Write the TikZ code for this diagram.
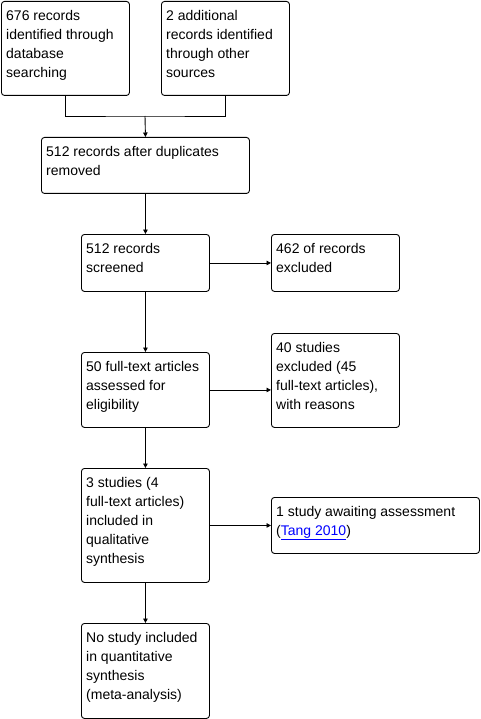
\documentclass[tikz,border=0pt]{standalone}
\usepackage{fontspec}
\setmainfont{Liberation Sans}
\usetikzlibrary{arrows.meta,calc}
\definecolor{linkblue}{HTML}{0000FF}
\tikzset{
  flowbox/.style={draw=black, line width=0.9pt, rounded corners=3pt, anchor=north west, inner sep=0pt, fill=white},
  boxtext/.style={anchor=north west, inner sep=0pt, align=left, font=\fontsize{14}{19}\selectfont},
  conn/.style={draw=black, line width=0.9pt},
  arr/.style={conn, -{Triangle[length=4.5pt,width=4.5pt]}}
}
\newcommand{\fs}{\rule{0pt}{13.3pt}}
\begin{document}
\begin{tikzpicture}[x=1pt,y=-1pt]
\useasboundingbox (0,0) rectangle (481,719);
% boxes
\node[flowbox, minimum width=128, minimum height=94] (A) at (1,1) {};
\node[flowbox, minimum width=128, minimum height=94] (B) at (161,1) {};
\node[flowbox, minimum width=208, minimum height=56] (C) at (41,137) {};
\node[flowbox, minimum width=128, minimum height=57] (D) at (81,234) {};
\node[flowbox, minimum width=128, minimum height=57] (E) at (271,234) {};
\node[flowbox, minimum width=128, minimum height=75] (F) at (81,352) {};
\node[flowbox, minimum width=128, minimum height=94] (H) at (271,333) {};
\node[flowbox, minimum width=128, minimum height=114] (G) at (81,468) {};
\node[flowbox, minimum width=208, minimum height=56] (I) at (271,497) {};
\node[flowbox, minimum width=128, minimum height=95] (J) at (81,623) {};
% texts
\node[boxtext] (tA) at ($(A.north west)+(5,5.7)$) {\fs 676 records\\identified through\\database\\searching};
\node[boxtext] (tB) at ($(B.north west)+(5,5.7)$) {\fs 2 additional\\records identified\\through other\\sources};
\node[boxtext] (tC) at ($(C.north west)+(5,5.7)$) {\fs 512 records after duplicates\\removed};
\node[boxtext] (tD) at ($(D.north west)+(5,5.7)$) {\fs 512 records\\screened};
\node[boxtext] (tE) at ($(E.north west)+(5,5.7)$) {\fs 462 of records\\excluded};
\node[boxtext] (tF) at ($(F.north west)+(5,5.7)$) {\fs 50 full-text articles\\assessed for\\eligibility};
\node[boxtext] (tH) at ($(H.north west)+(5,5.7)$) {\fs 40 studies\\excluded (45\\full-text articles),\\with reasons};
\node[boxtext] (tG) at ($(G.north west)+(5,5.7)$) {\fs 3 studies (4\\full-text articles)\\included in\\qualitative\\synthesis};
\node[boxtext] (tI) at ($(I.north west)+(5,5.7)$) {\fs 1 study awaiting assessment\\(\textcolor{linkblue}{\underline{Tang 2010}})};
\node[boxtext] (tJ) at ($(J.north west)+(5,5.7)$) {\fs No study included\\in quantitative\\synthesis\\(meta-analysis)};
% connectors
\coordinate (m) at (145,116);
\draw[conn] (A.south) |- (m) -| (B.south);
\draw[arr] (m) -- (C.north);
\draw[arr] (C.south) -- (D.north);
\draw[arr] (D.east) -- (D.east -| E.west);
\draw[arr] (D.south) -- (F.north);
\draw[arr] (F.east) -- (F.east -| H.west);
\draw[arr] (F.south) -- (G.north);
\draw[arr] (G.east) -- (G.east -| I.west);
\draw[arr] (G.south) -- (J.north);
\end{tikzpicture}
\end{document}
